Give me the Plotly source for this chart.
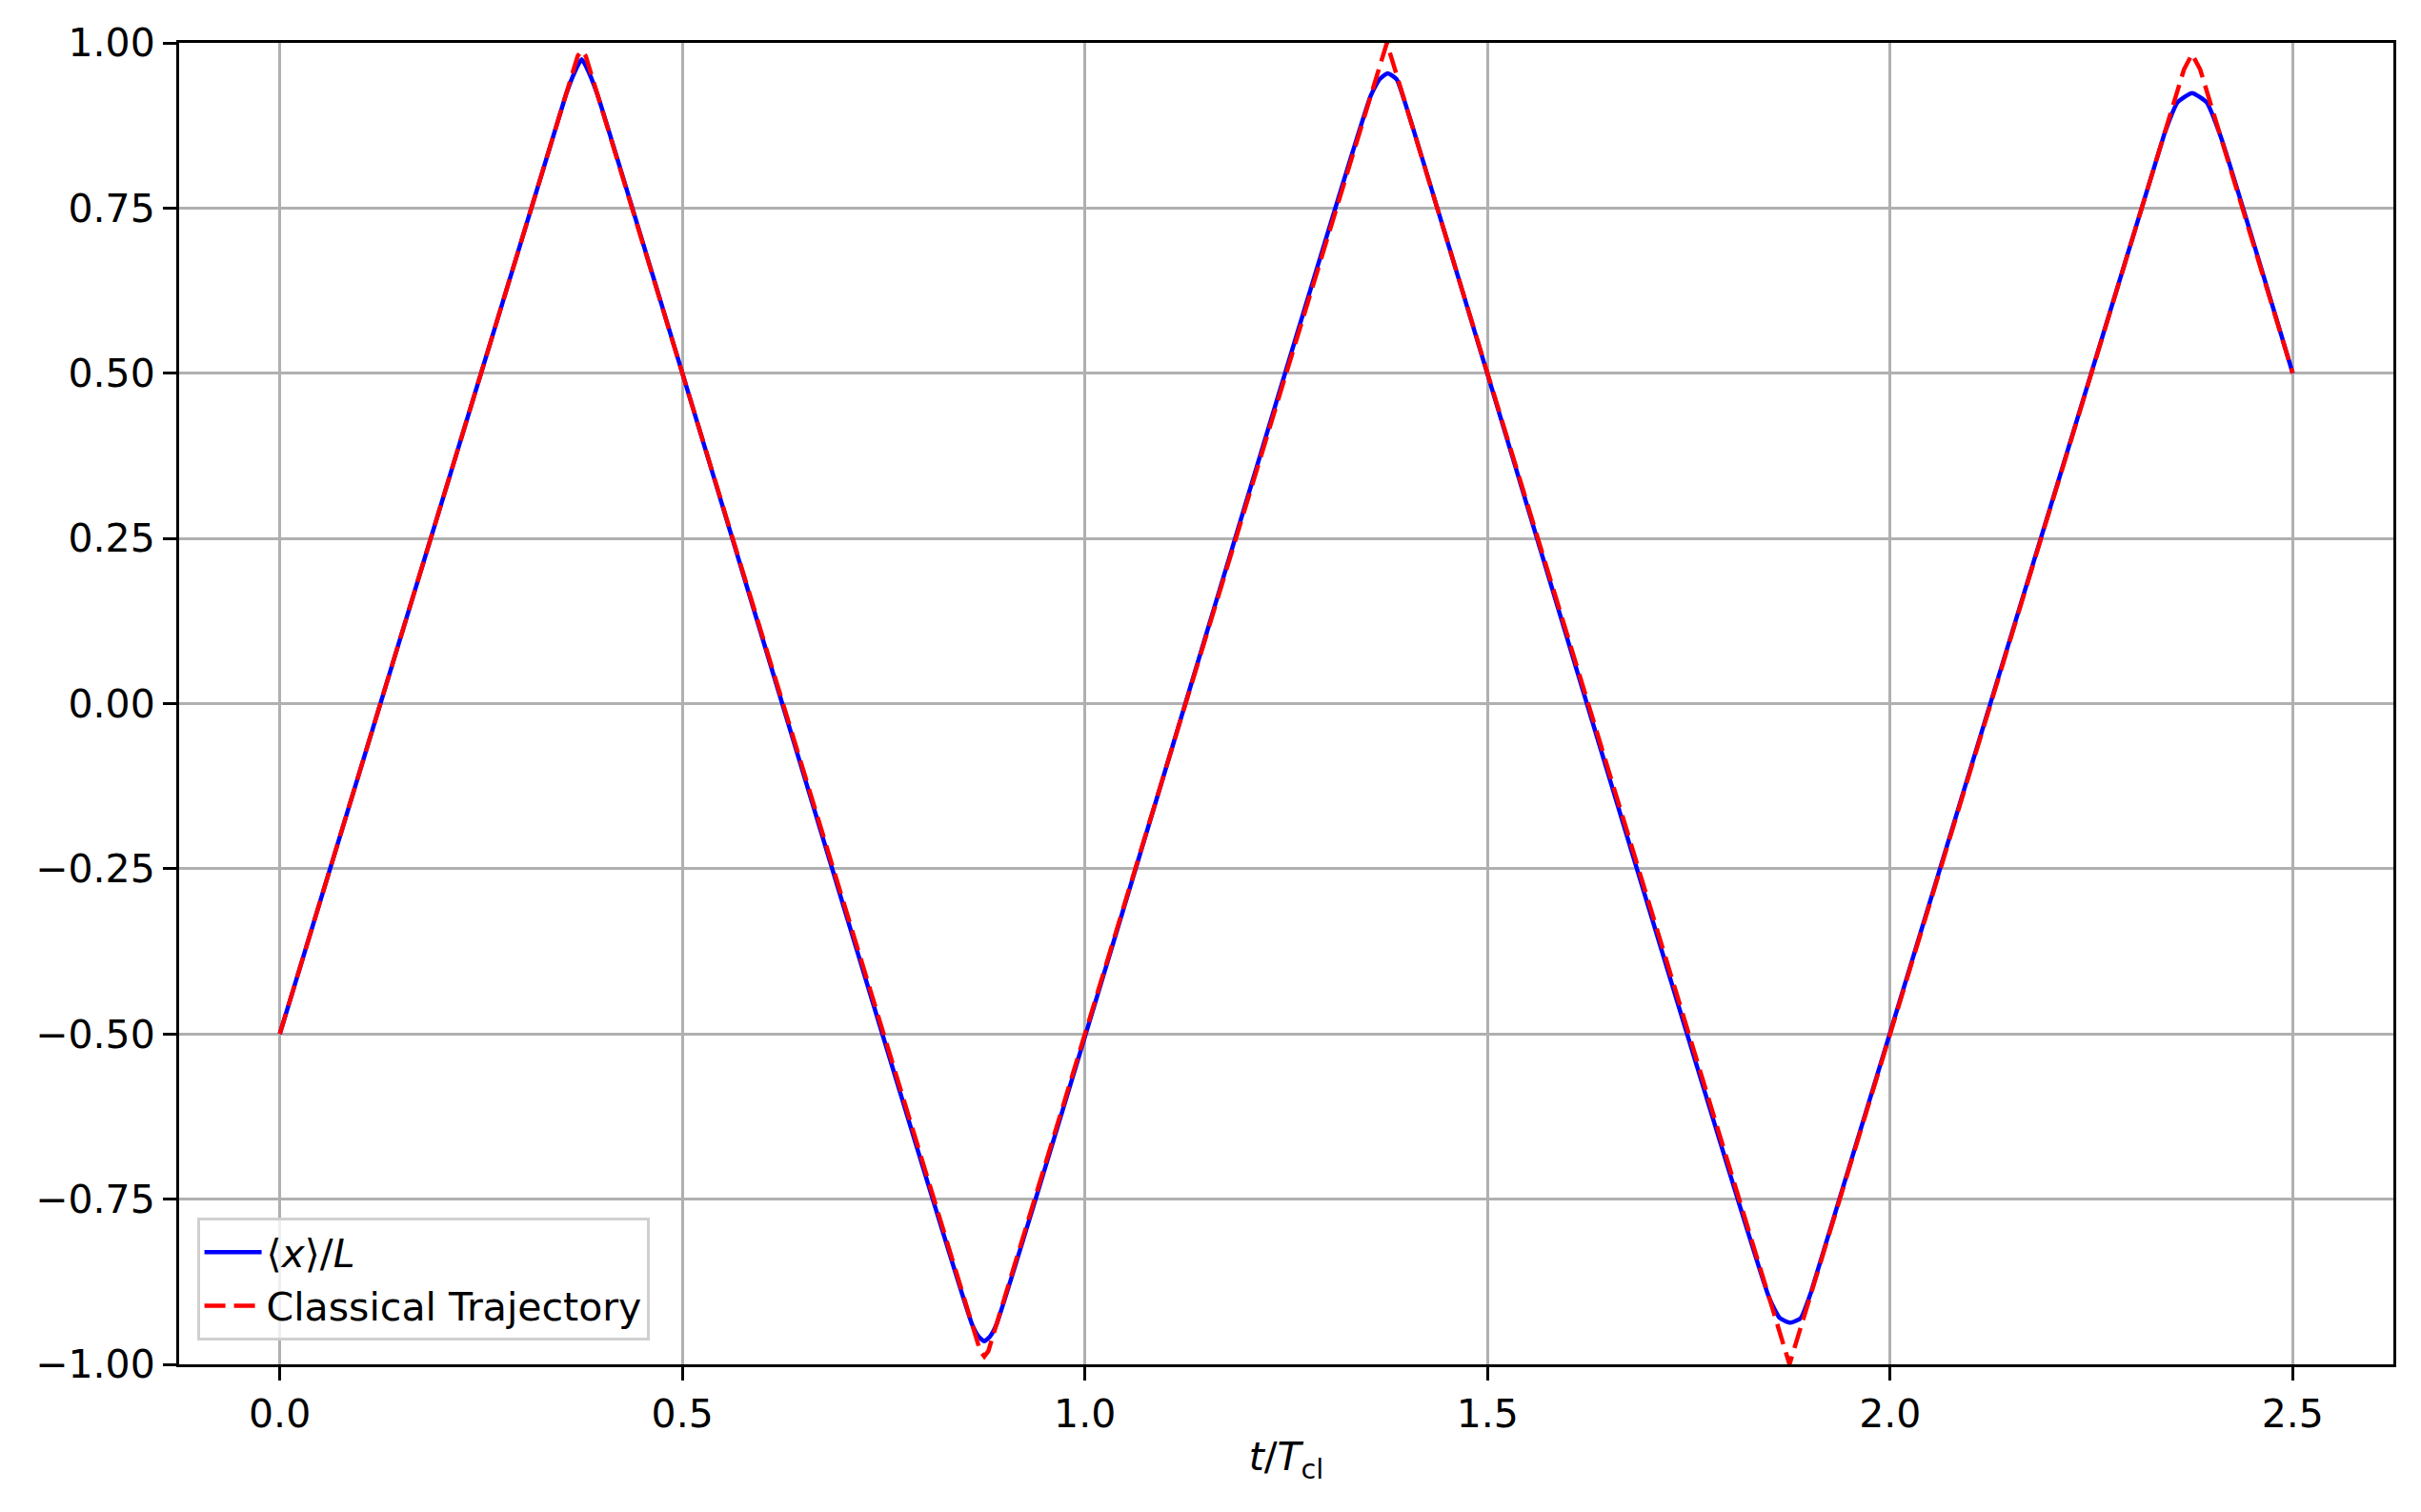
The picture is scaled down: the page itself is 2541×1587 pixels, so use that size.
import plotly.graph_objects as go

# <x>/L expectation value
t_quantum = [0.0, 0.355, 0.366, 0.375, 0.384, 0.395, 0.86, 0.868, 0.875, 0.882, 0.89,
             1.355, 1.366, 1.376, 1.387, 1.40, 1.85, 1.863, 1.876, 1.889, 1.902,
             2.34, 2.357, 2.375, 2.393, 2.41, 2.5]
x_quantum = [-0.5, 0.92, 0.955, 0.975, 0.955, 0.92, -0.94, -0.958, -0.965, -0.958, -0.94,
             0.92, 0.945, 0.954, 0.945, 0.90, -0.90, -0.93, -0.937, -0.93, -0.89,
             0.86, 0.91, 0.924, 0.91, 0.86, 0.5]

# classical trajectory
t_classical = [0.0, 0.37, 0.375, 0.38, 0.87, 0.875, 0.88, 1.37, 1.375, 1.38,
               1.87, 1.875, 1.88, 2.365, 2.375, 2.385, 2.5]
x_classical = [-0.5, 0.98, 0.988, 0.98, -0.98, -0.988, -0.98, 0.98, 1.0, 0.98,
               -0.98, -1.0, -0.98, 0.96, 0.983, 0.96, 0.5]

x_ticks = [0.0, 0.5, 1.0, 1.5, 2.0, 2.5]
y_ticks = [-1.0, -0.75, -0.5, -0.25, 0.0, 0.25, 0.5, 0.75, 1.0]

font = dict(family='DejaVu Sans', size=41, color='black')

fig = go.Figure()

fig.add_trace(go.Scatter(
    x=t_quantum, y=x_quantum, mode='lines',
    name='⟨<i>x</i>⟩/<i>L</i>',
    line=dict(color='blue', width=4.5, shape='spline', smoothing=0.5)
))

fig.add_trace(go.Scatter(
    x=t_classical, y=x_classical, mode='lines',
    name='Classical Trajectory',
    line=dict(color='red', width=4.5, dash='22px,9px')
))

axis_common = dict(
    showgrid=True, gridcolor='#b0b0b0', gridwidth=2.7,
    showline=True, linecolor='black', linewidth=3, mirror=True,
    ticks='outside', ticklen=14, tickwidth=3, tickcolor='black',
    zeroline=False, tickfont=font,
)

fig.update_xaxes(range=[-0.125, 2.625], tickvals=x_ticks, tickformat='.1f',
                 title=dict(text='<i>t</i>/<i>T</i><sub>cl</sub>', font=font, standoff=8),
                 **axis_common)
fig.update_yaxes(range=[-1, 1], tickvals=y_ticks, tickformat='.2f', **axis_common)

# page body has an 8px margin, so shift everything back by 8px
fig.update_layout(
    width=2533, height=1579,
    margin=dict(l=180, r=29, t=37, b=155),
    plot_bgcolor='white', paper_bgcolor='white',
    font=font,
    legend=dict(
        x=0.008, y=0.018, xanchor='left', yanchor='bottom',
        bgcolor='rgba(255,255,255,0.8)', bordercolor='#d0d0d0', borderwidth=3,
        font=font, itemwidth=60,
    ),
    showlegend=True,
)

fig.write_html("out.html")
